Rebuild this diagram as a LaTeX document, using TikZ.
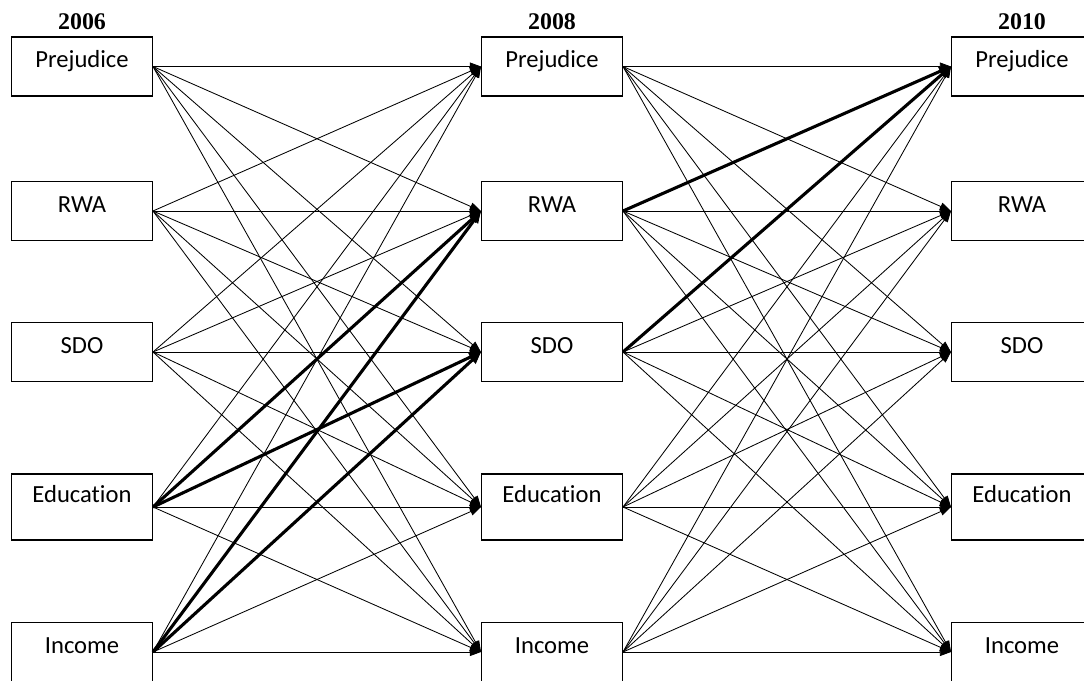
\documentclass[tikz,border=0pt]{standalone}
\usepackage{fontspec}
\setmainfont{Carlito}[Ligatures=NoCommon]
\newfontfamily\yearfont{Liberation Serif}
\usetikzlibrary{arrows.meta}

\begin{document}
\begin{tikzpicture}[x=0.025cm,y=-0.025cm,
    var/.style={draw,line width=0.8pt,minimum width=3.52cm,minimum height=1.475cm,
      inner sep=0pt,text height=0.5cm,text depth=0.44cm,font=\fontsize{17.5}{20}\selectfont},
    year/.style={font=\yearfont\bfseries\fontsize{17}{20}\selectfont},
    lag/.style={line width=0.6pt,-{Triangle[length=0.28cm,width=0.2cm]}},
    strong/.style={lag,line width=2.2pt,-{Triangle[length=0.3cm,width=0.24cm]}}]
    \useasboundingbox (0,0) rectangle (1084,680);
    % three waves
    \foreach \w/\x/\yr in {a/82/2006, b/552/2008, c/1022/2010}{
        \node[year] (\w year) at (\x,22) {\yr};
        \node[var] (\w1) at (\x,66.5) {Prejudice};
        \node[var] (\w2) at (\x,211) {RWA};
        \node[var] (\w3) at (\x,352) {SDO};
        \node[var,minimum height=1.65cm,text depth=0.72cm] (\w4) at (\x,507) {Education};
        \node[var] (\w5) at (\x,652) {Income};
    }
    % cross-lagged paths
    \foreach \s in {1,...,5}
        \foreach \t in {1,...,5}{
            \draw[lag] (a\s.east) -- (b\t.west);
            \draw[lag] (b\s.east) -- (c\t.west);
        }
    % significant ones
    \draw[strong] (a4.east) -- (b2.west);
    \draw[strong] (a4.east) -- (b3.west);
    \draw[strong] (a5.east) -- (b2.west);
    \draw[strong] (a5.east) -- (b3.west);
    \draw[strong] (b2.east) -- (c1.west);
    \draw[strong] (b3.east) -- (c1.west);
\end{tikzpicture}
\end{document}
